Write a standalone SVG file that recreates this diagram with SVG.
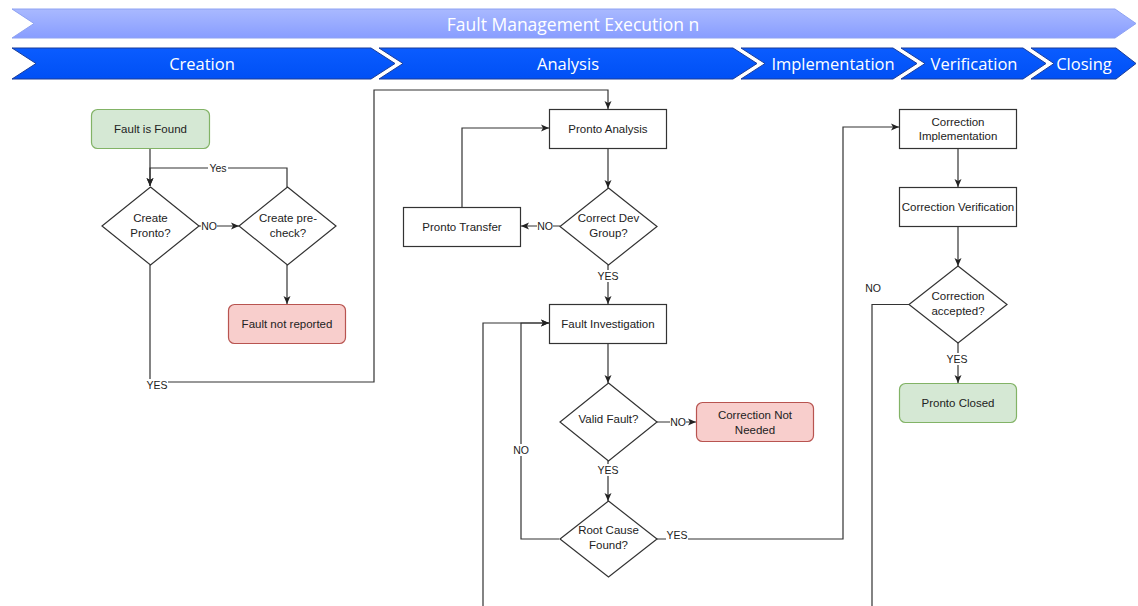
<svg xmlns="http://www.w3.org/2000/svg" width="1138" height="606" viewBox="0 0 1138 606">
  <defs>
    <linearGradient id="bannerFill" x1="0" y1="0" x2="0" y2="1">
      <stop offset="0" stop-color="#a9b9ff"/>
      <stop offset="1" stop-color="#889dff"/>
    </linearGradient>
    <linearGradient id="phaseFill" x1="0" y1="0" x2="0" y2="1">
      <stop offset="0" stop-color="#0a5cff"/>
      <stop offset="1" stop-color="#0050f5"/>
    </linearGradient>
    <marker id="arrow" markerWidth="9" markerHeight="8" refX="8" refY="4" orient="auto" markerUnits="userSpaceOnUse">
      <path d="M0,0.5 L8,4 L0,7.5 L2,4 z" fill="#222"/>
    </marker>
    <style>
      .banner { fill: url(#bannerFill); stroke: #8ea2f2; stroke-width: 1; }
      .phase { fill: url(#phaseFill); stroke: #1b3d99; stroke-width: 1; }
      .htext { font-family: "Open Sans", "DejaVu Sans", sans-serif; font-size: 16.5px; fill: #ffffff; text-anchor: middle; dominant-baseline: central; }
      .wide { font-size: 17.5px; }
      .box { fill: #ffffff; stroke: #333333; stroke-width: 1.2; }
      .start { fill: #d5e8d4; stroke: #82b366; stroke-width: 1.2; }
      .stop { fill: #f8cecc; stroke: #b85450; stroke-width: 1.2; }
      .ntext { font-family: "Liberation Sans", Arial, sans-serif; font-size: 11.5px; fill: #222; text-anchor: middle; dominant-baseline: central; }
      .edge { fill: none; stroke: #333333; stroke-width: 1.2; }
      .ltext { font-family: "Liberation Sans", Arial, sans-serif; font-size: 10.5px; fill: #222; text-anchor: middle; dominant-baseline: central; }
      .lbg { fill: #ffffff; }
    </style>
  </defs>

  <!-- Header banners -->
  <g id="header">
    <polygon class="banner" points="12,9 1115,9 1136,23.5 1115,38 12,38 34,23.5"/>
    <text class="htext wide" x="573" y="23.5">Fault Management Execution n</text>
    <polygon class="phase" points="12,48 371,48 395,63.5 371,79 12,79 36,63.5"/>
    <text class="htext" x="202" y="63.5">Creation</text>
    <polygon class="phase" points="379,48 733,48 757,63.5 733,79 379,79 403,63.5"/>
    <text class="htext" x="568" y="63.5">Analysis</text>
    <polygon class="phase" points="741,48 893,48 917,63.5 893,79 741,79 765,63.5"/>
    <text class="htext" x="833" y="63.5">Implementation</text>
    <polygon class="phase" points="901,48 1023,48 1046,63.5 1023,79 901,79 925,63.5"/>
    <text class="htext" x="974" y="63.5">Verification</text>
    <polygon class="phase" points="1031,48 1116,48 1136,63.5 1116,79 1031,79 1054,63.5"/>
    <text class="htext" x="1084" y="63.5">Closing</text>
  </g>

  <!-- Connectors -->
  <g id="connectors">
    <path class="edge" d="M150,148 L150,186" marker-end="url(#arrow)"/>
    <path class="edge" d="M287,187 L287,168 L150,168 L150,186" marker-end="url(#arrow)"/>
    <path class="edge" d="M199,226 L239,226" marker-end="url(#arrow)"/>
    <path class="edge" d="M287,265 L287,304" marker-end="url(#arrow)"/>
    <path class="edge" d="M150,265 L150,382 L374,382 L374,90 L608,90 L608,109" marker-end="url(#arrow)"/>
    <path class="edge" d="M608,148 L608,188" marker-end="url(#arrow)"/>
    <path class="edge" d="M560,226 L521,226" marker-end="url(#arrow)"/>
    <path class="edge" d="M462,207 L462,128 L549,128" marker-end="url(#arrow)"/>
    <path class="edge" d="M608,265 L608,304" marker-end="url(#arrow)"/>
    <path class="edge" d="M608,343 L608,383" marker-end="url(#arrow)"/>
    <path class="edge" d="M657,422 L696,422" marker-end="url(#arrow)"/>
    <path class="edge" d="M608,461 L608,501" marker-end="url(#arrow)"/>
    <path class="edge" d="M559,539 L521,539 L521,323 L549,323" marker-end="url(#arrow)"/>
    <path class="edge" d="M483,606 L483,323 L549,323" marker-end="url(#arrow)"/>
    <path class="edge" d="M657,539 L843,539 L843,127 L899,127" marker-end="url(#arrow)"/>
    <path class="edge" d="M958,148 L958,187" marker-end="url(#arrow)"/>
    <path class="edge" d="M958,227 L958,266" marker-end="url(#arrow)"/>
    <path class="edge" d="M958,343 L958,383" marker-end="url(#arrow)"/>
    <path class="edge" d="M909,304.5 L872,304.5 L872,606"/>

    <!-- edge labels -->
    <rect class="lbg" x="208" y="162" width="20" height="12"/>
    <text class="ltext" x="218" y="168">Yes</text>
    <rect class="lbg" x="201" y="220" width="16" height="12"/>
    <text class="ltext" x="209" y="226">NO</text>
    <rect class="lbg" x="146" y="379" width="22" height="12"/>
    <text class="ltext" x="157" y="385">YES</text>
    <rect class="lbg" x="537" y="220" width="16" height="12"/>
    <text class="ltext" x="545" y="226">NO</text>
    <rect class="lbg" x="597" y="270" width="22" height="12"/>
    <text class="ltext" x="608" y="276">YES</text>
    <rect class="lbg" x="670" y="416" width="16" height="12"/>
    <text class="ltext" x="678" y="422">NO</text>
    <rect class="lbg" x="597" y="464" width="22" height="12"/>
    <text class="ltext" x="608" y="470">YES</text>
    <rect class="lbg" x="513" y="444" width="16" height="12"/>
    <text class="ltext" x="521" y="450">NO</text>
    <rect class="lbg" x="666" y="529" width="22" height="12"/>
    <text class="ltext" x="677" y="535">YES</text>
    <text class="ltext" x="873" y="288">NO</text>
    <rect class="lbg" x="946" y="353" width="22" height="12"/>
    <text class="ltext" x="957" y="359">YES</text>
  </g>

  <!-- Creation phase -->
  <g id="fault-found">
    <rect class="start" x="91.5" y="109.5" width="118" height="39" rx="6"/>
    <text class="ntext" x="150.5" y="129">Fault is Found</text>
  </g>
  <g id="create-pronto">
    <polygon class="box" points="150.5,187 199,226 150.5,265 102,226"/>
    <text class="ntext" x="150.5" y="218">Create</text>
    <text class="ntext" x="150.5" y="233">Pronto?</text>
  </g>
  <g id="create-precheck">
    <polygon class="box" points="287.5,187 336,226 287.5,265 239,226"/>
    <text class="ntext" x="288" y="218">Create pre-</text>
    <text class="ntext" x="288" y="233">check?</text>
  </g>
  <g id="fault-not-reported">
    <rect class="stop" x="228.5" y="304.5" width="117" height="39" rx="6"/>
    <text class="ntext" x="287" y="324">Fault not reported</text>
  </g>

  <!-- Analysis phase -->
  <g id="pronto-analysis">
    <rect class="box" x="549.5" y="109.5" width="117" height="39"/>
    <text class="ntext" x="608" y="129">Pronto Analysis</text>
  </g>
  <g id="correct-dev-group">
    <polygon class="box" points="608.5,188 657,226.5 608.5,265 560,226.5"/>
    <text class="ntext" x="608.5" y="218">Correct Dev</text>
    <text class="ntext" x="608.5" y="233">Group?</text>
  </g>
  <g id="pronto-transfer">
    <rect class="box" x="403.5" y="207.5" width="117" height="39"/>
    <text class="ntext" x="462" y="227">Pronto Transfer</text>
  </g>
  <g id="fault-investigation">
    <rect class="box" x="549.5" y="304.5" width="117" height="39"/>
    <text class="ntext" x="608" y="324">Fault Investigation</text>
  </g>
  <g id="valid-fault">
    <polygon class="box" points="608.5,383 657,422 608.5,461 560,422"/>
    <text class="ntext" x="608.5" y="419">Valid Fault?</text>
  </g>
  <g id="correction-not-needed">
    <rect class="stop" x="696.5" y="402.5" width="117" height="39" rx="6"/>
    <text class="ntext" x="755" y="414.5">Correction Not</text>
    <text class="ntext" x="755" y="429.5">Needed</text>
  </g>
  <g id="root-cause-found">
    <polygon class="box" points="608.5,501 657,539 608.5,577 560,539"/>
    <text class="ntext" x="608.5" y="530">Root Cause</text>
    <text class="ntext" x="608.5" y="545">Found?</text>
  </g>

  <!-- Implementation / Verification / Closing -->
  <g id="correction-implementation">
    <rect class="box" x="899.5" y="109.5" width="117" height="39"/>
    <text class="ntext" x="958" y="121.5">Correction</text>
    <text class="ntext" x="958" y="136">Implementation</text>
  </g>
  <g id="correction-verification">
    <rect class="box" x="899.5" y="187.5" width="117" height="39"/>
    <text class="ntext" x="958" y="207">Correction Verification</text>
  </g>
  <g id="correction-accepted">
    <polygon class="box" points="958,266 1007,304.5 958,343 909,304.5"/>
    <text class="ntext" x="958" y="296">Correction</text>
    <text class="ntext" x="958" y="311">accepted?</text>
  </g>
  <g id="pronto-closed">
    <rect class="start" x="899.5" y="383.5" width="117" height="39" rx="6"/>
    <text class="ntext" x="958" y="402.5">Pronto Closed</text>
  </g>
</svg>
